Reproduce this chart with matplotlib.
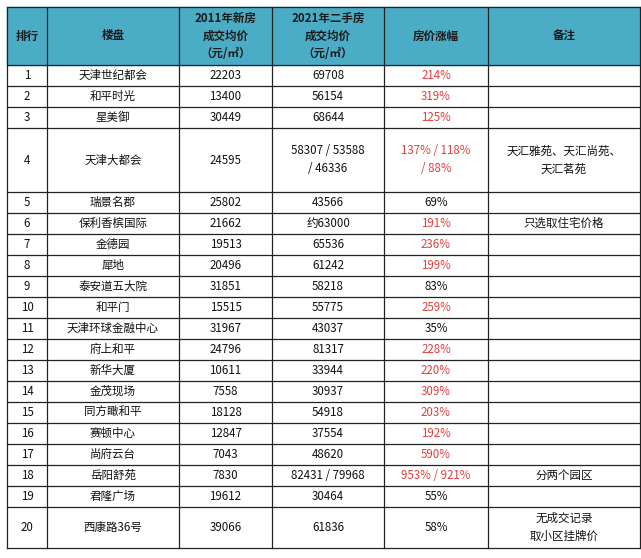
import matplotlib
matplotlib.use("Agg")
import matplotlib.pyplot as plt
from matplotlib.patches import Rectangle

plt.rcParams['font.family'] = ['Noto Sans CJK SC', 'DejaVu Sans']

# ==============================
# DATA
# ==============================
HEADERS = ["排行", "楼盘", "2011年新房\n成交均价\n（元/㎡）", "2021年二手房\n成交均价\n（元/㎡）", "房价涨幅", "备注"]
RANKS = [str(i) for i in range(1, 21)]
NAMES = ["天津世纪都会", "和平时光", "星美御", "天津大都会", "瑞景名郡", "保利香槟国际", "金德园", "犀地",
         "泰安道五大院", "和平门", "天津环球金融中心", "府上和平", "新华大厦", "金茂现场", "同方瞰和平",
         "赛顿中心", "尚府云台", "岳阳舒苑", "君隆广场", "西康路36号"]
PRICE_2011 = ["22203", "13400", "30449", "24595", "25802", "21662", "19513", "20496", "31851", "15515",
              "31967", "24796", "10611", "7558", "18128", "12847", "7043", "7830", "19612", "39066"]
PRICE_2021 = ["69708", "56154", "68644", "58307 / 53588\n/ 46336", "43566", "约63000", "65536", "61242",
              "58218", "55775", "43037", "81317", "33944", "30937", "54918", "37554", "48620",
              "82431 / 79968", "30464", "61836"]
GROWTH = ["214%", "319%", "125%", "137% / 118%\n/ 88%", "69%", "191%", "236%", "199%", "83%", "259%",
          "35%", "228%", "220%", "309%", "203%", "192%", "590%", "953% / 921%", "55%", "58%"]
GROWTH_RED = [True, True, True, True, False, True, True, True, False, True,
              False, True, True, True, True, True, True, True, False, False]
NOTES = [""] * 20
NOTES[3] = "天汇雅苑、天汇尚苑、\n天汇茗苑"
NOTES[5] = "只选取住宅价格"
NOTES[17] = "分两个园区"
NOTES[19] = "无成交记录\n取小区挂牌价"

# ==============================
# LAYOUT (pixels)
# ==============================
W, H = 641, 558
COL_X = [7, 47, 179, 272, 384, 488, 640]
ROW_H = [21] * 20
ROW_H[3] = 64
ROW_H[19] = 41
TOP, HEAD_H = 7, 58
HEAD_COLOR = "#4BACC6"
RED = "#E0403F"
FS = 8.3

fig = plt.figure(figsize=(W / 100, H / 100), dpi=100)
ax = fig.add_axes([0, 0, 1, 1])
ax.set_xlim(0, W)
ax.set_ylim(H, 0)
ax.axis("off")

# header
ax.add_patch(Rectangle((COL_X[0], TOP), COL_X[-1] - COL_X[0], HEAD_H, color=HEAD_COLOR, zorder=0))
for j, h in enumerate(HEADERS):
    cx = (COL_X[j] + COL_X[j + 1]) / 2
    ax.text(cx, TOP + HEAD_H / 2, h, ha="center", va="center", fontsize=FS,
            fontweight="bold", color="#1a1a1a", linespacing=1.45)

# rows
y = TOP + HEAD_H
row_edges = [y]
for i in range(20):
    h = ROW_H[i]
    cy = y + h / 2
    cells = [RANKS[i], NAMES[i], PRICE_2011[i], PRICE_2021[i], GROWTH[i], NOTES[i]]
    for j, txt in enumerate(cells):
        cx = (COL_X[j] + COL_X[j + 1]) / 2
        color = RED if (j == 4 and GROWTH_RED[i]) else "#111111"
        ax.text(cx, cy, txt, ha="center", va="center", fontsize=FS, color=color, linespacing=1.5)
    y += h
    row_edges.append(y)

# grid lines
for ry in [TOP] + row_edges:
    ax.plot([COL_X[0], COL_X[-1]], [ry, ry], color="#222222", lw=0.9)
for cx in COL_X:
    ax.plot([cx, cx], [TOP, row_edges[-1]], color="#222222", lw=0.9)

fig.savefig("out.png", dpi=100)
